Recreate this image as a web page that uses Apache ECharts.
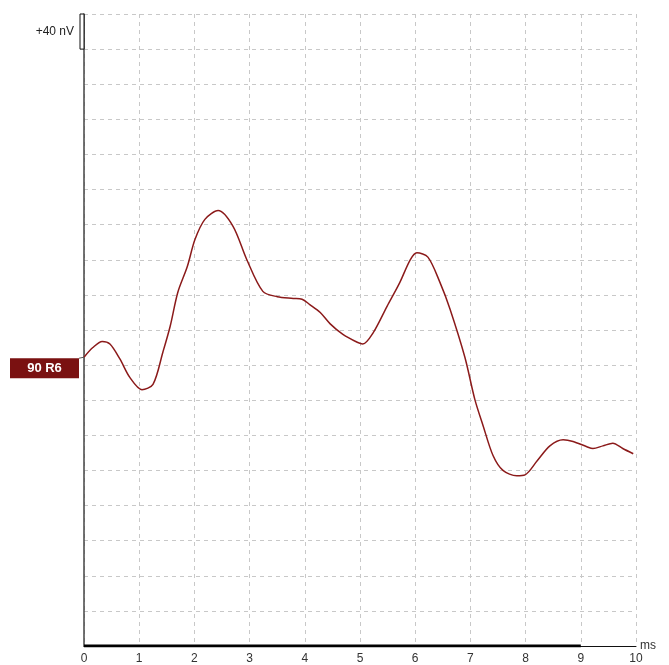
<!DOCTYPE html>
<html>
<head>
<meta charset="utf-8">
<script src="https://cdn.jsdelivr.net/npm/echarts@6/dist/echarts.min.js"></script>
<style>
  html, body { margin: 0; padding: 0; background: #fff; }
  #chart { width: 669px; height: 665px; }
</style>
</head>
<body>
<div id="chart"></div>
<script>
// time in ms, amplitude in nV (baseline 0 = trace start level)
var timeMs = [0, 0.16, 0.33, 0.47, 0.65, 0.83, 1.05, 1.25, 1.43, 1.56, 1.70, 1.87, 2.01, 2.19, 2.43,
  2.70, 2.95, 3.24, 3.50, 3.79, 3.95, 4.09, 4.28, 4.46, 4.69, 4.95, 5.05, 5.24, 5.49, 5.72,
  5.91, 6.03, 6.23, 6.45, 6.63, 6.90, 7.08, 7.23, 7.41, 7.59, 7.84, 7.99, 8.21, 8.44, 8.68,
  8.86, 9.11, 9.22, 9.40, 9.58, 9.76, 9.95];
var amplitude = [9, 20, 27, 24, 7, -14, -28, -22, 15, 44, 83, 112, 143, 166, 176,
  158, 120, 84, 78, 76, 75, 69, 60, 47, 35, 26, 24, 37, 67, 94,
  120, 128, 123, 94, 64, 9, -39, -69, -103, -120, -126, -125, -109, -92, -85,
  -87, -93, -95, -92, -89, -95, -101];
var xTicks = [0, 1, 2, 3, 4, 5, 6, 7, 8, 9, 10];
var traceName = "90 R6";
var scaleLabel = "+40 nV";
var scaleStep = 40;
var stimBar = [0, 9];

var chart = echarts.init(document.getElementById("chart"));
var yMin = -320, yMax = 400;

chart.setOption({
  animation: false,
  grid: { left: 84, right: 33, top: 14, bottom: 17 },
  xAxis: {
    type: "value",
    min: xTicks[0],
    max: xTicks[xTicks.length - 1],
    interval: 1,
    name: "ms",
    nameLocation: "end",
    nameGap: 4,
    nameTextStyle: { color: "#333", fontSize: 12, fontFamily: "Liberation Sans", verticalAlign: "middle" },
    axisLine: { show: true, onZero: false, lineStyle: { color: "#111", width: 1 } },
    axisTick: { show: false },
    axisLabel: { color: "#333", fontSize: 12, fontFamily: "Liberation Sans", margin: 7 },
    splitLine: { show: true, lineStyle: { color: "#c8c8c8", type: [4, 4], width: 1 } }
  },
  yAxis: {
    type: "value",
    min: yMin,
    max: yMax,
    interval: scaleStep,
    axisLine: { show: true, onZero: false, lineStyle: { color: "#444", width: 1.5 } },
    axisTick: { show: false },
    axisLabel: { show: false },
    splitLine: { show: true, lineStyle: { color: "#c8c8c8", type: [4, 4], width: 1 } }
  },
  series: [
    {
      name: traceName,
      type: "line",
      smooth: 0.3,
      symbol: "none",
      lineStyle: { color: "#8b1a1a", width: 1.5 },
      data: timeMs.map(function (t, i) { return [t, amplitude[i]]; }),
      z: 5
    },
    {
      type: "line",
      symbol: "none",
      silent: true,
      lineStyle: { color: "#000", width: 3 },
      data: [[stimBar[0], yMin], [stimBar[1], yMin]],
      z: 6
    }
  ]
});

// annotations positioned through the axes
var topPt = chart.convertToPixel({ gridIndex: 0 }, [0, yMax]);
var barBottom = chart.convertToPixel({ gridIndex: 0 }, [0, yMax - scaleStep]);
var basePt = chart.convertToPixel({ gridIndex: 0 }, [0, amplitude[0]]);
var axisX = topPt[0];

chart.setOption({
  graphic: [
    {
      type: "rect",
      shape: { x: axisX - 4, y: topPt[1], width: 4, height: barBottom[1] - topPt[1] },
      style: { fill: "#fff", stroke: "#111", lineWidth: 1 },
      z: 10
    },
    {
      type: "text",
      x: axisX - 10,
      y: (topPt[1] + barBottom[1]) / 2,
      style: {
        text: scaleLabel, fill: "#222", fontSize: 12, fontFamily: "Liberation Sans",
        align: "right", verticalAlign: "middle"
      },
      z: 10
    },
    {
      type: "line",
      shape: { x1: axisX - 5, y1: basePt[1] + 1, x2: axisX, y2: basePt[1] },
      style: { stroke: "#555", lineWidth: 1 },
      z: 10
    },
    {
      type: "rect",
      shape: { x: 10, y: basePt[1] + 1, width: axisX - 5 - 10, height: 20 },
      style: { fill: "#7a1111" },
      z: 10
    },
    {
      type: "text",
      x: (10 + axisX - 5) / 2,
      y: basePt[1] + 11,
      style: {
        text: traceName, fill: "#fff", fontSize: 13, fontWeight: "bold",
        fontFamily: "Liberation Sans", align: "center", verticalAlign: "middle"
      },
      z: 11
    }
  ]
});
</script>
</body>
</html>
